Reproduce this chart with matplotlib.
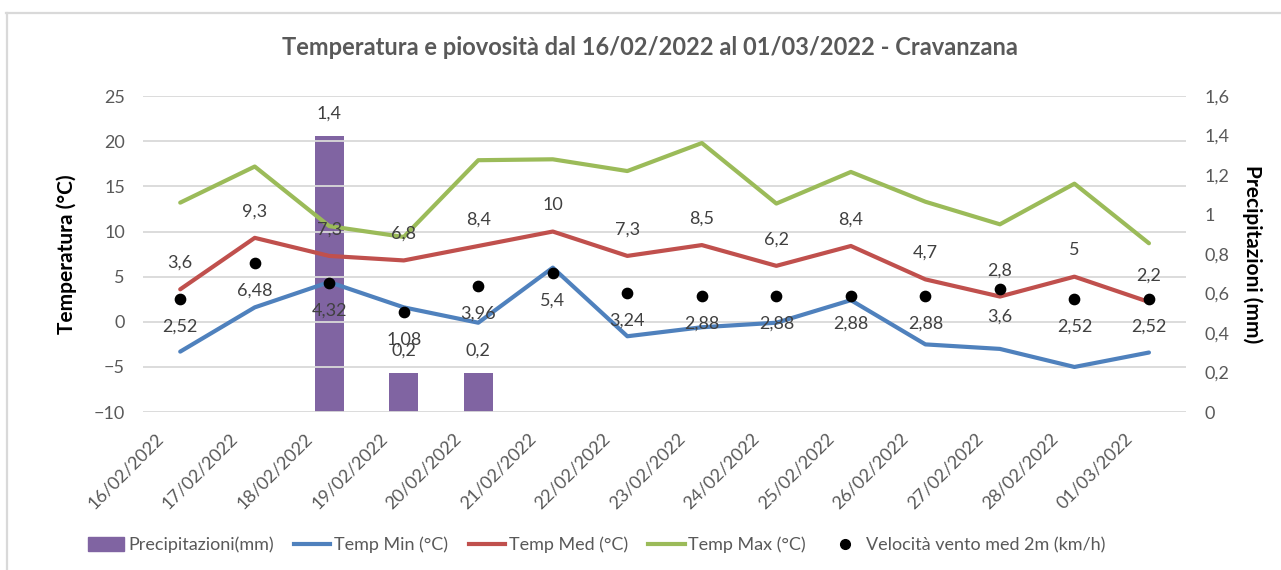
import matplotlib.pyplot as plt
from matplotlib.lines import Line2D
from matplotlib.transforms import ScaledTranslation

plt.rcParams['font.family'] = ['Lato', 'DejaVu Sans']

# Data
giorni = ["16/02/2022", "17/02/2022", "18/02/2022", "19/02/2022", "20/02/2022",
          "21/02/2022", "22/02/2022", "23/02/2022", "24/02/2022", "25/02/2022",
          "26/02/2022", "27/02/2022", "28/02/2022", "01/03/2022"]
precip = [0, 0, 1.4, 0.2, 0.2, 0, 0, 0, 0, 0, 0, 0, 0, 0]
temp_min = [-3.3, 1.6, 4.4, 1.6, -0.1, 6.0, -1.6, -0.6, -0.1, 2.4, -2.5, -3.0, -5.0, -3.4]
temp_med = [3.6, 9.3, 7.3, 6.8, 8.4, 10, 7.3, 8.5, 6.2, 8.4, 4.7, 2.8, 5, 2.2]
temp_max = [13.2, 17.2, 10.6, 9.4, 17.9, 18.0, 16.7, 19.8, 13.1, 16.6, 13.3, 10.8, 15.3, 8.7]
vento = [2.52, 6.48, 4.32, 1.08, 3.96, 5.4, 3.24, 2.88, 2.88, 2.88, 2.88, 3.6, 2.52, 2.52]

c_bar = '#8064A2'
c_min = '#4F81BD'
c_med = '#C0504D'
c_max = '#9BBB59'
grigio = '#595959'
testo = '#404040'


def virgola(v):
    return f"{v:g}".replace('.', ',')


fig = plt.figure(figsize=(12.81, 5.70), dpi=100)
ax = fig.add_axes([0.1116, 0.277, 0.8144, 0.5544])
ax2 = ax.twinx()
ax.set_zorder(ax2.get_zorder() + 1)
ax.patch.set_visible(False)

x = list(range(len(giorni)))

# Precipitation bars (right axis)
ax2.bar(x, precip, width=0.39, color=c_bar, zorder=2)
for xi, p in zip(x, precip):
    if p > 0:
        ax2.annotate(virgola(p), (xi, p), xytext=(0, 16), textcoords='offset points',
                     ha='center', va='center', fontsize=13, color=testo)
ax2.set_ylim(0, 1.6)
ax2.set_yticks([0, 0.2, 0.4, 0.6, 0.8, 1, 1.2, 1.4, 1.6])
ax2.set_yticklabels([virgola(round(v, 1)) for v in ax2.get_yticks()])

# Temperature lines (left axis)
ax.plot(x, temp_min, color=c_min, lw=3, solid_capstyle='round', zorder=3)
ax.plot(x, temp_med, color=c_med, lw=3, solid_capstyle='round', zorder=3)
ax.plot(x, temp_max, color=c_max, lw=3, solid_capstyle='round', zorder=3)
ax.scatter(x, vento, s=55, color='black', zorder=4)

for xi, v in zip(x, temp_med):
    ax.annotate(virgola(v), (xi, v), xytext=(0, 19), textcoords='offset points',
                ha='center', va='center', fontsize=13, color=testo)
for xi, v in zip(x, vento):
    ax.annotate(virgola(v), (xi, v), xytext=(0, -20), textcoords='offset points',
                ha='center', va='center', fontsize=13, color=testo)

ax.set_ylim(-10, 25)
ax.set_yticks(range(-10, 26, 5))
ax.set_xlim(-0.5, len(giorni) - 0.5)
ax.set_xticks(x)
ax.set_xticklabels(giorni, rotation=45, ha='right', rotation_mode='anchor')
ax.grid(axis='y', color='#D9D9D9', lw=1.3)

for a in (ax, ax2):
    for s in a.spines.values():
        s.set_visible(False)
    a.tick_params(length=0, labelsize=13, labelcolor=grigio)
ax.tick_params(axis='y', pad=13)
ax2.tick_params(axis='y', pad=13)
ax.tick_params(axis='x', pad=13)
offset = ScaledTranslation(-18 / 72, 0, fig.dpi_scale_trans)
for lab in ax.get_xticklabels():
    lab.set_transform(lab.get_transform() + offset)

ax.set_ylabel("Temperatura (°C)", fontsize=15, fontweight='bold', color='black', labelpad=12)
ax2.set_ylabel("Precipitazioni (mm)", fontsize=15, fontweight='bold', color='black',
               rotation=270, labelpad=24)

fig.text(0.507, 0.917, "Temperatura e piovosità dal 16/02/2022 al 01/03/2022 - Cravanzana",
         ha='center', va='center', fontsize=17, fontweight='bold', color=grigio)

# Legend
handles = [
    plt.Rectangle((0, 0), 1, 1, color=c_bar),
    Line2D([], [], color=c_min, lw=3),
    Line2D([], [], color=c_med, lw=3),
    Line2D([], [], color=c_max, lw=3),
    Line2D([], [], color='black', marker='o', ls='none', markersize=7),
]
labels = ["Precipitazioni(mm)", "Temp Min (°C)", "Temp Med (°C)", "Temp Max (°C)",
          "Velocità vento med 2m (km/h)"]
leg = fig.legend(handles, labels, loc='center', bbox_to_anchor=(0.466, 0.044), ncol=5,
                 frameon=False, fontsize=13, handlelength=2.0, handletextpad=0.2,
                 columnspacing=1.15, handleheight=0.8)
for t in leg.get_texts():
    t.set_color(grigio)

# chart border
fig.add_artist(Line2D([0.005, 1.0], [1 - 13 / 570, 1 - 13 / 570], color='#D9D9D9', lw=1.6,
                      transform=fig.transFigure))
fig.add_artist(Line2D([6.5 / 1281, 6.5 / 1281], [0, 1 - 13 / 570], color='#D9D9D9', lw=1.6,
                      transform=fig.transFigure))

fig.savefig('out.png', dpi=100)
